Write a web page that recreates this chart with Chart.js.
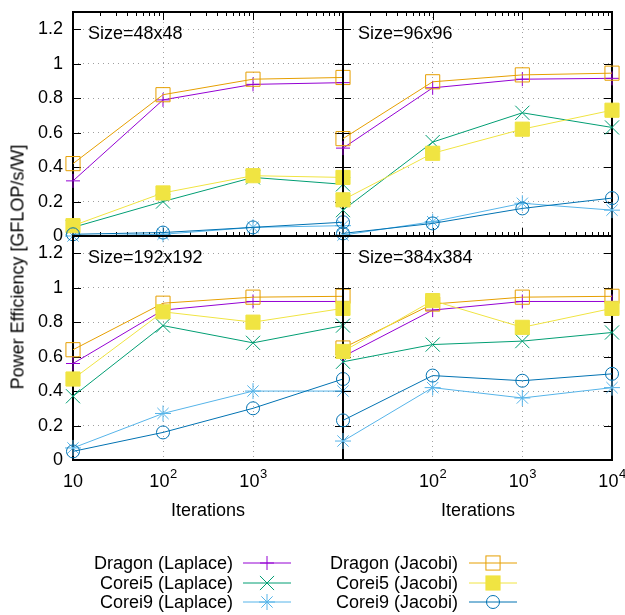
<!DOCTYPE html>
<html>
<head>
<meta charset="utf-8">
<script src="https://cdn.jsdelivr.net/npm/chart.js@4/dist/chart.umd.min.js"></script>
<style>
  body { margin: 0; background: #fff; }
  #wrap { position: relative; width: 625px; height: 615px; font-family: "Liberation Sans", Arial, sans-serif; font-size: 18px; color: #000; }
  #wrap canvas { position: absolute; left: 0; top: 0; }
  #ytitle { position: absolute; left: 18px; top: 267px; transform: translate(-50%, -50%) rotate(-90deg); white-space: nowrap; }
  .xtitle { position: absolute; top: 499px; width: 200px; text-align: center; line-height: 22px; }
  .lg-text { position: absolute; text-align: right; line-height: 20px; white-space: nowrap; }
  .lg-mark { position: absolute; }
</style>
</head>
<body>
<div id="wrap">
  <canvas id="p0" width="625" height="615"></canvas>
  <canvas id="p1" width="625" height="615"></canvas>
  <canvas id="p2" width="625" height="615"></canvas>
  <canvas id="p3" width="625" height="615"></canvas>
  <div id="ytitle">Power Efficiency [GFLOP/s/W]</div>
  <div class="xtitle" style="left:108px">Iterations</div>
  <div class="xtitle" style="left:378px">Iterations</div>
  <div id="legend"></div>
</div>
<script>
const iterations = [10, 100, 1000, 10000];
const panelSizes = ["48x48", "96x96", "192x192", "384x384"];
const yTicks = [0, 0.2, 0.4, 0.6, 0.8, 1, 1.2];
const yTickLabels = ["0", "0.2", "0.4", "0.6", "0.8", "1", "1.2"];
// "base^exp" is drawn with a raised exponent
const xTickLabelsLeft = ["10", "10^2", "10^3", ""];
const xTickLabelsRight = ["", "10^2", "10^3", "10^4"];
const seriesNames = ["Dragon (Laplace)", "Corei5 (Laplace)", "Corei9 (Laplace)",
                     "Dragon (Jacobi)", "Corei5 (Jacobi)", "Corei9 (Jacobi)"];

// one row per panel: 48x48, 96x96, 192x192, 384x384
const dragonLaplace = [[0.32, 0.79, 0.88, 0.89], [0.51, 0.86, 0.91, 0.915], [0.56, 0.87, 0.92, 0.92], [0.60, 0.87, 0.92, 0.92]];
const corei5Laplace = [[0.05, 0.20, 0.34, 0.30], [0.15, 0.545, 0.715, 0.63], [0.37, 0.78, 0.68, 0.78], [0.57, 0.67, 0.69, 0.74]];
const corei9Laplace = [[0.00, 0.01, 0.05, 0.06], [0.005, 0.083, 0.19, 0.15], [0.07, 0.27, 0.40, 0.40], [0.11, 0.42, 0.36, 0.42]];
const dragonJacobi  = [[0.42, 0.82, 0.91, 0.92], [0.565, 0.895, 0.935, 0.945], [0.64, 0.91, 0.945, 0.95], [0.65, 0.905, 0.945, 0.95]];
const corei5Jacobi  = [[0.06, 0.25, 0.35, 0.34], [0.21, 0.48, 0.62, 0.73], [0.47, 0.86, 0.80, 0.88], [0.63, 0.925, 0.77, 0.88]];
const corei9Jacobi  = [[0.01, 0.02, 0.05, 0.08], [0.015, 0.073, 0.16, 0.22], [0.05, 0.16, 0.30, 0.47], [0.23, 0.49, 0.46, 0.50]];

const allSeries = [dragonLaplace, corei5Laplace, corei9Laplace, dragonJacobi, corei5Jacobi, corei9Jacobi];

// look of each series (gnuplot default colours)
const styles = [
  { color: "#9400d3", point: "cross",    r: 7,   fill: false },
  { color: "#009e73", point: "crossRot", r: 10,  fill: false },
  { color: "#56b4e9", point: "star",     r: 8,   fill: false },
  { color: "#e69f00", point: "rect",     r: 10,  fill: false },
  { color: "#f0e442", point: "rect",     r: 10,  fill: true  },
  { color: "#0072b2", point: "circle",   r: 6.5, fill: false },
];

const FONT = '"Liberation Sans", "DejaVu Sans", Arial, sans-serif';
const FS = 18;

// panel boxes in page pixels
const W = 625, H = 615;
const colX = [73, 343, 612];
const rowY = [12, 236, 460];

function drawSupLabel(ctx, text, cx, cy) {
  const [base, exp] = text.split("^");
  ctx.font = FS + "px " + FONT;
  const wb = ctx.measureText(base).width;
  let we = 0;
  if (exp) {
    ctx.font = Math.round(FS * 0.72) + "px " + FONT;
    we = ctx.measureText(exp).width;
  }
  const x0 = cx - (wb + we) / 2;
  ctx.textAlign = "left";
  ctx.textBaseline = "middle";
  ctx.font = FS + "px " + FONT;
  ctx.fillText(base, x0, cy);
  if (exp) {
    ctx.font = Math.round(FS * 0.72) + "px " + FONT;
    ctx.fillText(exp, x0 + wb + 0.5, cy - 8);
  }
}

const framePlugin = {
  id: "frame",
  beforeDatasetsDraw(chart, args, opts) {
    const { ctx, chartArea: a, scales: { x, y } } = chart;
    ctx.save();
    ctx.strokeStyle = "#000";
    ctx.lineWidth = 1;
    ctx.beginPath();
    yTicks.forEach(v => {
      const py = Math.round(y.getPixelForValue(v)) + 0.5;
      ctx.moveTo(a.left, py); ctx.lineTo(a.left + 8, py);
      ctx.moveTo(a.right, py); ctx.lineTo(a.right - 8, py);
    });
    if (opts.xTicks) {
      for (let d = 10; d < 10000; d *= 10) {
        for (let m = 1; m < 10; m++) {
          const px = Math.round(x.getPixelForValue(d * m)) + 0.5;
          const len = m === 1 ? 8 : 4;
          ctx.moveTo(px, a.top); ctx.lineTo(px, a.top + len);
          ctx.moveTo(px, a.bottom); ctx.lineTo(px, a.bottom - len);
        }
      }
    }
    ctx.stroke();
    ctx.lineWidth = 2;
    ctx.strokeRect(a.left, a.top, a.right - a.left, a.bottom - a.top);

    ctx.fillStyle = "#000";
    ctx.font = FS + "px " + FONT;
    ctx.textBaseline = "middle";
    if (opts.yLabels) {
      ctx.textAlign = "right";
      yTicks.forEach((v, i) => ctx.fillText(yTickLabels[i], a.left - 10, y.getPixelForValue(v)));
    }
    if (opts.xLabels) {
      iterations.forEach((v, i) => {
        if (opts.xLabels[i]) drawSupLabel(ctx, opts.xLabels[i], x.getPixelForValue(v), a.bottom + 22);
      });
    }
    ctx.font = FS + "px " + FONT;
    ctx.textAlign = "left";
    ctx.textBaseline = "middle";
    ctx.fillText("Size=" + opts.size, a.left + 15, a.top + 22);
    ctx.restore();
  }
};

function makePanel(p) {
  const isLeft = p % 2 === 0;
  const isTop = p < 2;
  const left = colX[isLeft ? 0 : 1], right = colX[isLeft ? 1 : 2];
  const top = rowY[isTop ? 0 : 1], bottom = rowY[isTop ? 1 : 2];

  const datasets = allSeries.map((vals, i) => ({
    label: seriesNames[i],
    data: iterations.map((it, k) => ({ x: it, y: vals[p][k] })),
    borderColor: styles[i].color,
    backgroundColor: styles[i].fill ? styles[i].color : "rgba(0,0,0,0)",
    pointStyle: styles[i].point,
    pointRadius: styles[i].r,
    pointHoverRadius: styles[i].r,
    pointBorderWidth: 1,
    borderWidth: 1,
    tension: 0,
    clip: false,
    order: allSeries.length - i,
  }));

  new Chart(document.getElementById("p" + p), {
    type: "line",
    data: { datasets },
    options: {
      responsive: false,
      animation: false,
      events: [],
      layout: {
        padding: { left: left, right: W - right, top: top, bottom: H - bottom }
      },
      plugins: {
        legend: { display: false },
        tooltip: { enabled: false },
        frame: {
          xTicks: isTop,
          yLabels: isLeft,
          xLabels: isTop ? null : (isLeft ? xTickLabelsLeft : xTickLabelsRight),
          size: panelSizes[p],
        },
      },
      scales: {
        x: {
          type: "logarithmic",
          min: 10,
          max: 10000,
          afterBuildTicks: s => { s.ticks = iterations.map(v => ({ value: v })); },
          afterFit: s => { s.height = 0; },
          ticks: { display: false },
          grid: { color: "#a0a0a0", lineWidth: 1, drawTicks: false },
          border: { display: false, dash: [1, 4] },
        },
        y: {
          min: 0,
          max: 1.3,
          afterBuildTicks: s => { s.ticks = yTicks.map(v => ({ value: v })); },
          afterFit: s => { s.width = 0; },
          ticks: { display: false },
          grid: { color: "#a0a0a0", lineWidth: 1, drawTicks: false },
          border: { display: false, dash: [1, 4] },
        },
      },
    },
    plugins: [framePlugin],
  });
}

[0, 1, 2, 3].forEach(makePanel);

// legend below the panels: text then sample line with marker
function markerSvg(st) {
  const c = st.color, cx = 24, cy = 10;
  let m = "";
  if (st.point === "cross") {
    m = `<path d="M${cx - st.r} ${cy}H${cx + st.r}M${cx} ${cy - st.r}V${cy + st.r}" stroke="${c}" />`;
  } else if (st.point === "crossRot") {
    const o = st.r * Math.SQRT1_2;
    m = `<path d="M${cx - o} ${cy - o}L${cx + o} ${cy + o}M${cx - o} ${cy + o}L${cx + o} ${cy - o}" stroke="${c}" />`;
  } else if (st.point === "star") {
    const o = st.r * Math.SQRT1_2;
    m = `<path d="M${cx - st.r} ${cy}H${cx + st.r}M${cx} ${cy - st.r}V${cy + st.r}M${cx - o} ${cy - o}L${cx + o} ${cy + o}M${cx - o} ${cy + o}L${cx + o} ${cy - o}" stroke="${c}" />`;
  } else if (st.point === "rect") {
    const s = st.r * Math.SQRT1_2;
    m = `<rect x="${cx - s}" y="${cy - s}" width="${2 * s}" height="${2 * s}" stroke="${c}" fill="${st.fill ? c : "none"}" />`;
  } else {
    m = `<circle cx="${cx}" cy="${cy}" r="${st.r}" stroke="${c}" fill="none" />`;
  }
  return `<svg width="48" height="20" viewBox="0 0 48 20"><path d="M0 ${cy}H48" stroke="${c}" />${m}</svg>`;
}

const legendRows = [563, 583, 602];
const legendTextRight = [233, 458];
const legendMarkLeft = [243, 469];
const legend = document.getElementById("legend");
seriesNames.forEach((name, i) => {
  const col = i < 3 ? 0 : 1;
  const row = i % 3;
  const t = document.createElement("div");
  t.className = "lg-text";
  t.style.left = "0px";
  t.style.width = legendTextRight[col] + "px";
  t.style.top = (legendRows[row] - 10) + "px";
  t.textContent = name;
  legend.appendChild(t);
  const m = document.createElement("div");
  m.className = "lg-mark";
  m.style.left = legendMarkLeft[col] + "px";
  m.style.top = (legendRows[row] - 10) + "px";
  m.innerHTML = markerSvg(styles[i]);
  legend.appendChild(m);
});
</script>
</body>
</html>
